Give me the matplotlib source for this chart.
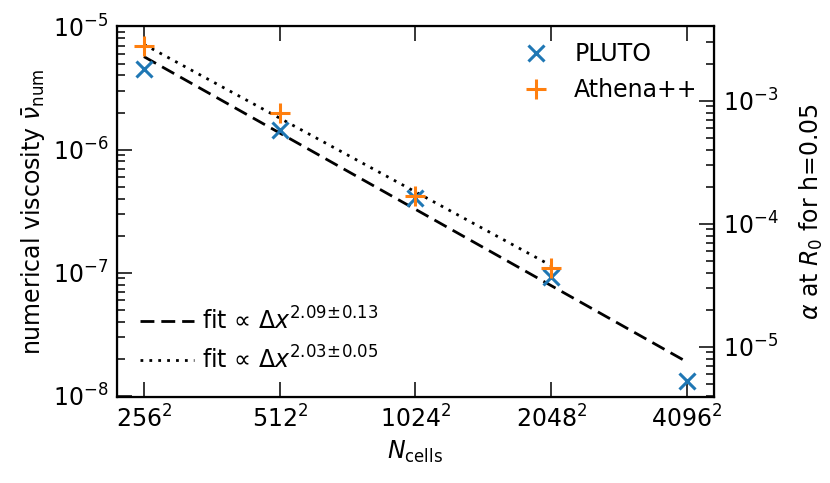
import matplotlib
matplotlib.use("Agg")
import matplotlib.pyplot as plt
from matplotlib.ticker import FixedLocator, NullLocator, LogLocator

plt.rcParams['font.family'] = ['DejaVu Sans']
plt.rcParams['mathtext.fontset'] = 'dejavusans'

# resolution N (per side)
n_cells = [256, 512, 1024, 2048, 4096]
tick_labels = [r'$256^2$', r'$512^2$', r'$1024^2$', r'$2048^2$', r'$4096^2$']

# numerical viscosity
nu_pluto = [4.52e-6, 1.44e-6, 4.06e-7, 9.27e-8, 1.32e-8]
n_athena = [256, 512, 1024, 2048]
nu_athena = [6.95e-6, 1.99e-6, 4.22e-7, 1.10e-7]

# fit lines (end points)
fit_pluto_n = [256, 4096]
fit_pluto_nu = [5.69e-6, 1.88e-8]
fit_athena_n = [256, 2048]
fit_athena_nu = [7.16e-6, 1.14e-7]

h = 0.05

fig = plt.figure(figsize=(8.3, 4.83), dpi=100)
ax = fig.add_axes([0.1404, 0.1774, 0.8606 - 0.1404, 0.9468 - 0.1774])

l1, = ax.plot(fit_pluto_n, fit_pluto_nu, color='black', ls=(0, (5, 2.5)), lw=2,
              label='fit \u221d $\\Delta x^{2.09\\!\\pm\\!0.13}$')
l2, = ax.plot(fit_athena_n, fit_athena_nu, color='black', ls=(0, (1, 2.2)), lw=2,
              label='fit \u221d $\\Delta x^{2.03\\!\\pm\\!0.05}$')
p1, = ax.plot(n_cells, nu_pluto, ls='none', marker='x', ms=12, mew=2.2,
              color='tab:blue', label='PLUTO')
p2, = ax.plot(n_athena, nu_athena, ls='none', marker='+', ms=14, mew=2.2,
              color='tab:orange', label='Athena++')

ax.set_xscale('log', base=2)
ax.set_yscale('log')
ax.set_xlim(256 / 1.15, 4096 * 1.15)
ax.set_ylim(9.7e-9, 1.015e-5)
ax.xaxis.set_major_locator(FixedLocator(n_cells))
ax.xaxis.set_minor_locator(NullLocator())
ax.set_xticklabels(tick_labels)
ax.yaxis.set_major_locator(LogLocator(base=10, numticks=10))
ax.yaxis.set_minor_locator(LogLocator(base=10, subs=range(2, 10), numticks=10))

ax.set_xlabel(r'$N_{\rm cells}$', fontsize=17)
ax.set_ylabel(r'numerical viscosity $\bar{\nu}_{\rm num}$', fontsize=17)

ax.tick_params(which='both', direction='in', top=True, labelsize=17, colors='black')
ax.tick_params(which='major', length=11, width=1.1, pad=6)
ax.tick_params(which='minor', length=5.5, width=1.1)
for s in ax.spines.values():
    s.set_linewidth(1.6)

ax2 = ax.twinx()
ax2.set_yscale('log')
lo, hi = ax.get_ylim()
ax2.set_ylim(lo / h**2, hi / h**2)
ax2.yaxis.set_major_locator(LogLocator(base=10, numticks=10))
ax2.yaxis.set_minor_locator(LogLocator(base=10, subs=range(2, 10), numticks=10))
ax2.set_ylabel(r'$\alpha$ at $R_0$ for h=0.05', fontsize=17, labelpad=14)
ax2.tick_params(which='both', direction='in', labelsize=17)
ax2.tick_params(which='major', length=11, width=1.1, pad=6)
ax2.tick_params(which='minor', length=5.5, width=1.1)

leg1 = ax2.legend(handles=[p1, p2], loc='upper right', frameon=False, fontsize=17,
                  handletextpad=0.6, borderaxespad=0.3)
ax2.add_artist(leg1)
ax2.legend(handles=[l1, l2], loc='lower left', frameon=False, fontsize=17,
           handlelength=2.3, handletextpad=0.3, borderaxespad=0.6)

plt.savefig('out.png', dpi=100)
